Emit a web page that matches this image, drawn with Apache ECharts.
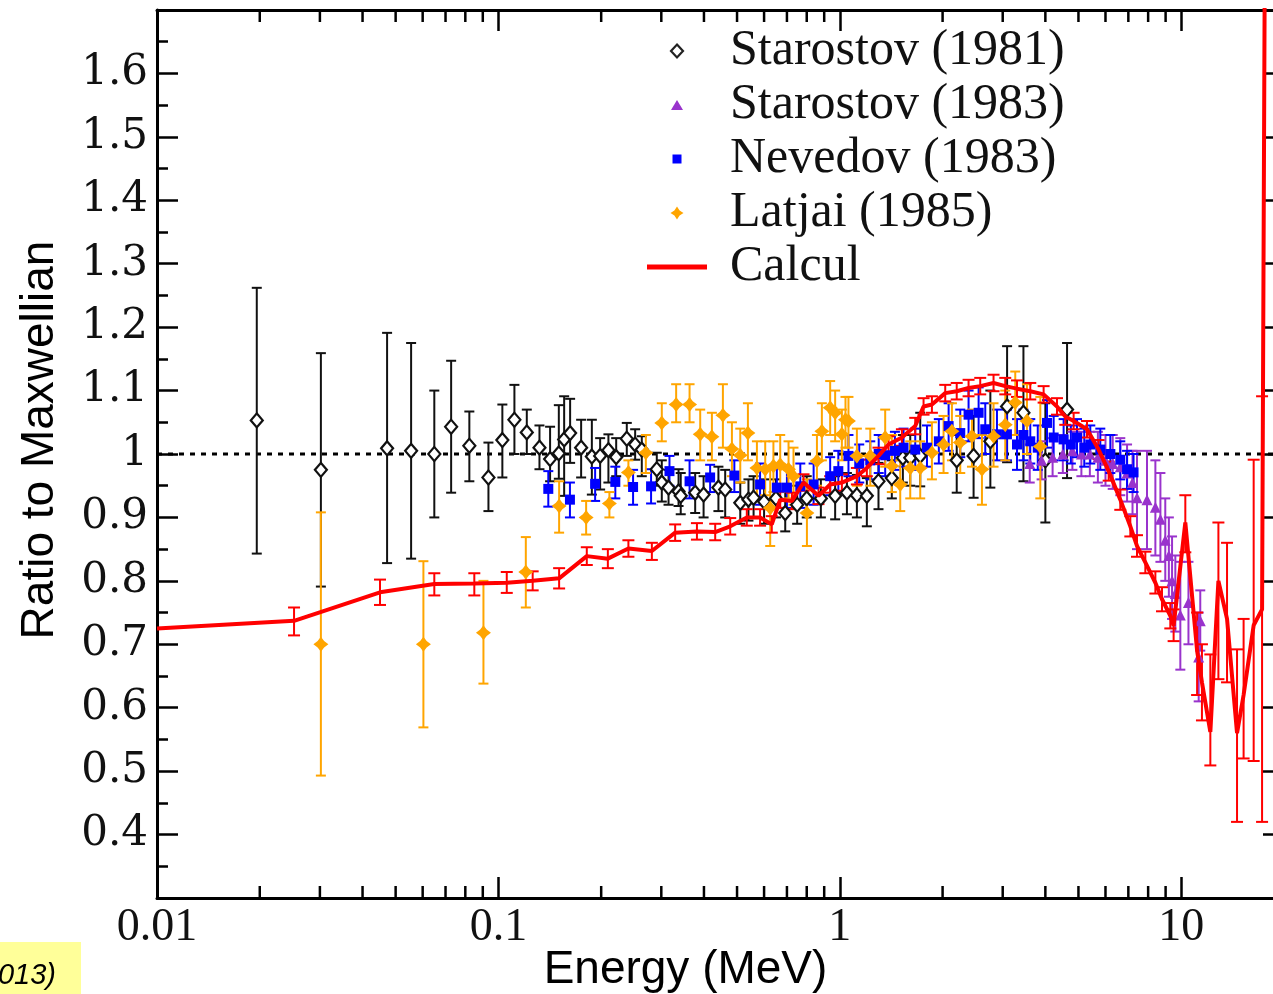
<!DOCTYPE html>
<html><head><meta charset="utf-8">
<script src="https://cdn.jsdelivr.net/npm/echarts@6/dist/echarts.min.js"></script>
<style>html,body{margin:0;padding:0;background:#fff;overflow:hidden}#c{width:1284px;height:994px}</style>
</head><body><div id="c"></div>
<script>
// ---- tick labels ----
const xTickValues = [0.01, 0.1, 1, 10];
const xTickLabels = ['0.01', '0.1', '1', '10'];
const xMinorTicks = [0.02,0.03,0.04,0.05,0.06,0.07,0.08,0.09,0.2,0.3,0.4,0.5,0.6,0.7,0.8,0.9,2,3,4,5,6,7,8,9];
const yHiddenLabels = [0.3, 1.7];

// ---- data: [energy MeV, ratio, low, high] ----
const starostov1981 = [
[0.0196,1.053,0.843,1.262],[0.0302,0.975,0.791,1.159],[0.0472,1.009,0.828,1.191],[0.0555,1.005,0.835,1.175],
[0.0649,1.000,0.900,1.100],[0.0727,1.043,0.939,1.147],[0.0822,1.013,0.957,1.067],[0.0935,0.963,0.910,1.018],
[0.1027,1.022,0.963,1.078],[0.1114,1.054,1.000,1.109],[0.1211,1.034,1.000,1.070],[0.1319,1.010,0.976,1.045],
[0.1417,0.992,0.957,1.043],[0.1503,1.001,0.961,1.077],[0.1558,1.023,0.934,1.091],[0.1622,1.033,0.986,1.087],
[0.1747,1.010,0.963,1.054],[0.1878,0.996,0.936,1.054],[0.1986,0.997,0.944,1.025],[0.2100,1.006,0.955,1.031],
[0.2213,0.995,0.965,1.025],[0.2377,1.024,0.997,1.049],[0.2515,1.015,0.991,1.039],[0.263,1.007,0.965,1.028],
[0.291,0.976,0.950,1.002],[0.301,0.955,0.925,0.990],[0.315,0.947,0.920,0.975],[0.337,0.941,0.918,0.976],
[0.342,0.934,0.905,0.970],[0.377,0.939,0.907,0.970],[0.399,0.936,0.900,0.965],[0.441,0.947,0.910,0.980],
[0.4616,0.944,0.900,0.975],[0.511,0.923,0.890,0.955],[0.540,0.928,0.895,0.960],[0.559,0.931,0.900,0.965],
[0.60,0.925,0.890,0.960],[0.65,0.930,0.900,0.960],[0.692,0.907,0.878,0.940],[0.75,0.920,0.890,0.950],
[0.80,0.930,0.900,0.965],[0.88,0.930,0.900,0.960],[0.969,0.934,0.897,0.965],[1.049,0.939,0.905,0.970],
[1.122,0.935,0.900,0.967],[1.2,0.934,0.886,0.962],[1.298,0.957,0.913,0.986],[1.42,0.962,0.930,0.990],
[1.53,0.994,0.955,1.030],[1.608,0.994,0.950,1.030],[1.72,0.997,0.949,1.065],[2.2,0.990,0.939,1.030],
[2.465,0.997,0.931,1.060],[2.76,1.020,0.947,1.100],[3.09,1.075,0.987,1.170],[3.45,1.065,0.957,1.170],
[4.0,0.990,0.892,1.080],[4.63,1.070,0.962,1.175]
];
const starostov1983 = [
[3.6,0.985,0.955,1.015],[3.9,0.990,0.960,1.020],[4.2,0.995,0.965,1.025],[4.5,1.000,0.970,1.030],
[4.8,1.005,0.975,1.035],[5.1,1.000,0.965,1.035],[5.4,1.000,0.965,1.035],[5.7,0.995,0.955,1.035],
[6.0,0.990,0.950,1.030],[6.3,0.985,0.945,1.030],[6.63,0.980,0.935,1.025],[6.94,0.970,0.925,1.015],
[7.2,0.955,0.905,1.005],[7.42,0.931,0.850,1.005],[7.94,0.928,0.850,1.005],[8.40,0.916,0.840,0.990],
[8.69,0.897,0.830,0.970],[8.98,0.864,0.800,0.930],[9.2,0.840,0.775,0.900],[9.4,0.800,0.740,0.870],
[9.61,0.780,0.720,0.840],[9.94,0.746,0.660,0.830],[10.5,0.766,0.700,0.830],[11.25,0.680,0.610,0.750],
[11.37,0.737,0.690,0.785]
];
const nevedov1983 = [
[0.140,0.945,0.917,0.973],[0.162,0.928,0.900,0.955],[0.192,0.953,0.926,0.978],[0.220,0.956,0.930,0.980],
[0.248,0.948,0.920,0.975],[0.280,0.949,0.922,0.976],[0.317,0.973,0.950,0.997],[0.363,0.957,0.930,0.990],
[0.417,0.963,0.940,0.983],[0.491,0.966,0.940,0.990],[0.584,0.952,0.920,0.985],[0.654,0.947,0.915,0.980],
[0.70,0.947,0.915,0.980],[0.766,0.949,0.915,0.985],[0.838,0.952,0.920,0.985],[0.937,0.965,0.935,0.995],
[0.99,0.973,0.940,1.005],[1.06,0.997,0.965,1.030],[1.14,0.985,0.955,1.015],[1.228,0.990,0.960,1.020],
[1.30,1.000,0.970,1.030],[1.358,0.998,0.965,1.030],[1.45,1.005,0.975,1.035],[1.537,1.010,0.980,1.040],
[1.663,1.007,0.975,1.040],[1.80,1.010,0.980,1.045],[1.95,1.020,0.985,1.055],[2.083,1.044,1.005,1.080],
[2.253,1.033,0.995,1.070],[2.383,1.062,1.020,1.100],[2.55,1.065,1.025,1.105],[2.667,1.039,1.000,1.080],
[2.886,1.031,0.990,1.070],[3.087,1.031,0.990,1.070],[3.303,1.015,0.975,1.055],[3.45,1.030,0.990,1.070],
[3.613,1.020,0.985,1.055],[3.8,1.010,0.975,1.045],[4.045,1.049,1.010,1.085],[4.23,1.026,0.990,1.060],
[4.524,1.023,0.990,1.055],[4.75,1.015,0.985,1.045],[4.952,1.026,0.995,1.055],[5.2,1.010,0.980,1.040],
[5.416,1.015,0.985,1.045],[5.794,1.007,0.975,1.040],[6.2,1.000,0.970,1.030],[6.63,0.991,0.960,1.020],
[6.94,0.976,0.945,1.005],[7.25,0.971,0.940,1.000]
];
const latjai1985 = [
[0.0302,0.700,0.493,0.908],[0.0603,0.700,0.569,0.831],[0.0904,0.718,0.638,0.800],[0.1203,0.814,0.758,0.869],
[0.1506,0.918,0.876,0.957],[0.1807,0.900,0.873,0.926],[0.2114,0.922,0.900,0.940],[0.2403,0.971,0.950,0.990],
[0.2703,1.002,0.970,1.030],[0.301,1.049,1.020,1.080],[0.3316,1.078,1.050,1.110],[0.363,1.078,1.050,1.110],
[0.39,1.031,0.990,1.070],[0.422,1.027,0.990,1.065],[0.4545,1.061,1.010,1.110],[0.483,1.008,0.965,1.050],
[0.511,0.998,0.955,1.040],[0.538,1.033,0.990,1.080],[0.5717,0.978,0.930,1.020],[0.6046,0.976,0.935,1.020],
[0.6253,0.915,0.855,0.976],[0.639,0.981,0.940,1.020],[0.669,0.983,0.940,1.030],[0.7076,0.976,0.930,1.020],
[0.7317,0.965,0.920,1.010],[0.801,0.907,0.855,0.960],[0.857,0.989,0.950,1.030],[0.886,1.036,0.990,1.080],
[0.937,1.073,1.030,1.115],[0.969,1.065,1.020,1.100],[1.014,1.031,0.990,1.070],[1.039,1.054,1.010,1.090],
[1.06,1.052,1.010,1.090],[1.122,0.997,0.950,1.040],[1.228,0.997,0.950,1.040],[1.358,1.026,0.980,1.070],
[1.42,0.981,0.940,1.030],[1.503,0.952,0.910,0.990],[1.608,0.978,0.930,1.020],[1.72,0.978,0.930,1.020],
[1.861,1.002,0.960,1.050],[2.013,1.015,0.970,1.060],[2.13,1.036,0.990,1.080],[2.253,1.018,0.970,1.060],
[2.438,1.028,0.980,1.070],[2.608,0.976,0.920,1.030],[2.82,1.028,0.980,1.080],[3.052,1.046,0.990,1.100],
[3.265,1.081,1.030,1.130],[3.533,1.052,1.000,1.110],[3.866,1.012,0.930,1.090]
];
const calcul = [
[0.01,0.725,0.725,0.725],[0.0252,0.737,0.714,0.758],[0.045,0.782,0.762,0.802],[0.0649,0.795,0.777,0.812],
[0.085,0.796,0.777,0.812],[0.1058,0.797,0.781,0.814],[0.126,0.800,0.785,0.815],[0.1506,0.804,0.788,0.820],
[0.1815,0.839,0.825,0.853],[0.2092,0.835,0.820,0.850],[0.2403,0.851,0.838,0.864],[0.2815,0.847,0.833,0.860],
[0.3294,0.876,0.863,0.889],[0.3815,0.878,0.865,0.891],[0.4315,0.877,0.864,0.890],[0.4775,0.886,0.873,0.899],
[0.534,0.900,0.887,0.913],[0.584,0.900,0.887,0.913],[0.632,0.889,0.876,0.902],[0.669,0.928,0.915,0.941],
[0.724,0.926,0.913,0.939],[0.783,0.955,0.942,0.968],[0.866,0.934,0.921,0.947],[0.937,0.952,0.939,0.965],
[1.014,0.955,0.942,0.968],[1.122,0.965,0.952,0.978],[1.2,0.978,0.965,0.991],[1.298,0.997,0.984,1.010],
[1.389,1.015,1.002,1.028],[1.52,1.026,1.013,1.039],[1.663,1.044,1.031,1.057],[1.759,1.075,1.062,1.088],
[1.861,1.078,1.065,1.091],[2.036,1.096,1.083,1.109],[2.2,1.099,1.086,1.112],[2.383,1.104,1.091,1.117],
[2.578,1.107,1.094,1.120],[2.82,1.112,1.099,1.125],[3.052,1.107,1.094,1.120],[3.303,1.103,1.090,1.116],
[3.613,1.099,1.086,1.112],[3.953,1.094,1.081,1.107],[4.326,1.075,1.062,1.088],[4.575,1.059,1.046,1.072],
[4.84,1.052,1.039,1.065],[5.297,1.039,1.026,1.052],[5.728,1.007,0.992,1.022],[6.13,0.973,0.958,0.988],
[6.63,0.928,0.912,0.944],[7.094,0.886,0.870,0.902],[7.42,0.855,0.838,0.872],[7.85,0.829,0.812,0.846],
[8.40,0.797,0.780,0.815],[8.785,0.771,0.752,0.790],[9.29,0.745,0.725,0.765],[9.50,0.729,0.705,0.755],
[10.28,0.892,0.845,0.935],[11.13,0.690,0.620,0.750],[11.5,0.640,0.580,0.700],[12.17,0.562,0.509,0.684],
[12.85,0.800,0.645,0.892],[13.62,0.740,0.640,0.860],[14.57,0.560,0.420,0.692],[15.23,0.620,0.520,0.740],
[16.3,0.730,0.516,0.991],[17.25,0.755,0.420,1.091],[17.8,2.5,2.5,2.5]
];
const referenceLine = [[0.01, 1], [20, 1]];

// ---- rendering ----
const X_MIN = 0.01, X_MAX = 20, Y_MIN = 0.3, Y_MAX = 1.7;
const chart = echarts.init(document.getElementById('c'), null, {renderer: 'canvas'});

function errBars(color, cap, lw) {
  return function (params, api) {
    const x = api.value(0), lo = api.value(2), hi = api.value(3);
    if (lo === hi) return null;
    const a = api.coord([x, hi]), b = api.coord([x, lo]);
    const st = {stroke: color, lineWidth: lw};
    return {type: 'group', children: [
      {type: 'line', shape: {x1: a[0], y1: a[1], x2: b[0], y2: b[1]}, style: st},
      {type: 'line', shape: {x1: a[0] - cap, y1: a[1], x2: a[0] + cap, y2: a[1]}, style: st},
      {type: 'line', shape: {x1: b[0] - cap, y1: b[1], x2: b[0] + cap, y2: b[1]}, style: st}
    ]};
  };
}
function errSeries(name, data, color, cap, lw) {
  return {type: 'custom', name: name, data: data, renderItem: errBars(color, cap, lw),
    encode: {x: 0, y: 1}, clip: true, silent: true, z: 2};
}
const xy = d => d.map(r => [r[0], r[1]]);

const axisLine = {show: true, onZero: false, lineStyle: {color: '#000', width: 3}};
const blobPath = 'path://M6,0 L8.6,3.4 L12,6 L8.6,8.6 L6,12 L3.4,8.6 L0,6 L3.4,3.4 Z';
// legend icons padded to a 14x14 box so that they keep their own size
const legDiamond = 'path://M0,0M14,14M7,0.5L13,7L7,13.5L1,7Z';
const legTriangle = 'path://M0,0M14,14M7,2L13,12L1,12Z';
const legSquare = 'path://M0,0M14,14M2.5,2.5H11.5V11.5H2.5Z';
const legBlob = 'path://M0,0M14,14M7,0.5L9.6,4.4L13.5,7L9.6,9.6L7,13.5L4.4,9.6L0.5,7L4.4,4.4Z';

const option = {
  animation: false,
  backgroundColor: '#fff',
  grid: {left: 157, top: 10, right: 0, bottom: 96, containLabel: false, outerBoundsMode: 'none'},
  xAxis: [{
    type: 'log', logBase: 10, min: X_MIN, max: X_MAX, position: 'bottom',
    axisLine: axisLine,
    axisTick: {show: true, inside: true, length: 21, lineStyle: {color: '#000', width: 2.5}},
    splitLine: {show: false}, minorTick: {show: false},
    axisLabel: {
      margin: 7, color: '#111', fontFamily: 'Liberation Serif', fontSize: 46,
      formatter: function (v) {
        for (let i = 0; i < xTickValues.length; i++) {
          if (Math.abs(v - xTickValues[i]) / xTickValues[i] < 1e-6) return xTickLabels[i];
        }
        return '';
      }
    },
    name: 'Energy (MeV)', nameLocation: 'middle', nameGap: 49, nameMoveOverlap: false,
    nameTextStyle: {fontFamily: 'Liberation Sans', fontSize: 46, color: '#000', padding: [0, 70, 0, 0]}
  }, {
    type: 'log', logBase: 10, min: X_MIN, max: X_MAX, position: 'top',
    axisLine: axisLine,
    axisTick: {show: true, inside: true, length: 21, lineStyle: {color: '#000', width: 2.5}},
    axisLabel: {show: false}, splitLine: {show: false}
  }],
  yAxis: [{
    type: 'value', min: Y_MIN, max: Y_MAX, interval: 0.1, position: 'left',
    axisLine: axisLine,
    axisTick: {show: true, inside: true, length: 21, lineStyle: {color: '#000', width: 2.5}},
    minorTick: {show: true, splitNumber: 2, length: 11, lineStyle: {color: '#000', width: 2.5}},
    splitLine: {show: false},
    axisLabel: {
      margin: 9, color: '#111', fontFamily: 'DejaVu Serif', fontSize: 42,
      formatter: function (v) {
        for (const h of yHiddenLabels) if (Math.abs(v - h) < 1e-6) return '';
        return String(Math.round(v * 10) / 10);
      }
    },
    name: 'Ratio to Maxwellian', nameLocation: 'middle', nameGap: 94, nameMoveOverlap: false,
    nameTextStyle: {fontFamily: 'Liberation Sans', fontSize: 46, color: '#000', padding: [0, 0, 0, 28]}
  }, {
    type: 'value', min: Y_MIN, max: Y_MAX, interval: 0.1, position: 'right',
    axisLine: axisLine,
    axisTick: {show: true, inside: true, length: 21, lineStyle: {color: '#000', width: 2.5}},
    minorTick: {show: true, splitNumber: 2, length: 11, lineStyle: {color: '#000', width: 2.5}},
    splitLine: {show: false}, axisLabel: {show: false}
  }],
  legend: {
    orient: 'vertical', left: 647, top: 26, padding: 0, itemWidth: 60, itemHeight: 14, itemGap: 4,
    selectedMode: false, symbolKeepAspect: true,
    textStyle: {fontFamily: 'Liberation Serif', fontSize: 50, color: '#111', padding: [0, 0, 0, 18]},
    data: [
      {name: 'Starostov (1981)', icon: legDiamond, itemStyle: {color: '#fff', borderColor: '#222', borderWidth: 2.2}},
      {name: 'Starostov (1983)', icon: legTriangle, itemStyle: {color: '#9933cc'}},
      {name: 'Nevedov (1983)', icon: legSquare, itemStyle: {color: '#0000ff'}},
      {name: 'Latjai (1985)', icon: legBlob, itemStyle: {color: '#ffa500'}},
      {name: 'Calcul', icon: 'path://M0,0H60V5H0Z', itemStyle: {color: '#ff0000'}}
    ]
  },
  graphic: [
    {type: 'rect', left: 0, top: 942, shape: {width: 81, height: 52}, style: {fill: '#ffff99'}, z: 10},
    {type: 'text', x: 56, y: 976, z: 11,
     style: {text: '(2013)', fill: '#000', font: 'italic 29px "Liberation Sans"', align: 'right', verticalAlign: 'middle'}}
  ],
  series: [
    {type: 'custom', name: 'minor x ticks', data: xMinorTicks.map(v => [v, 1]), encode: {x: 0, y: 1},
     silent: true, z: 5,
     renderItem: function (params, api) {
       const v = api.value(0);
       const b = api.coord([v, Y_MIN]), t = api.coord([v, Y_MAX]);
       const st = {stroke: '#000', lineWidth: 2.5};
       return {type: 'group', children: [
         {type: 'line', shape: {x1: b[0], y1: b[1], x2: b[0], y2: b[1] - 12}, style: st},
         {type: 'line', shape: {x1: t[0], y1: t[1], x2: t[0], y2: t[1] + 12}, style: st}
       ]};
     }},
    {type: 'line', name: 'unity', data: referenceLine, symbol: 'none', silent: true, z: 1,
     lineStyle: {color: '#000', width: 3, type: [5, 6]}},
    errSeries('err81', starostov1981, '#111', 5, 2),
    {type: 'scatter', name: 'Starostov (1981)', data: xy(starostov1981), symbol: 'diamond', symbolSize: [12, 14], z: 3,
     itemStyle: {color: '#fff', borderColor: '#111', borderWidth: 2.2, opacity: 1}},
    errSeries('err83', starostov1983, '#9933cc', 5, 2),
    {type: 'scatter', name: 'Starostov (1983)', data: xy(starostov1983), symbol: 'triangle', symbolSize: 11, z: 3,
     itemStyle: {color: '#9933cc', opacity: 1}},
    errSeries('errNev', nevedov1983, '#0000ff', 5, 2),
    {type: 'scatter', name: 'Nevedov (1983)', data: xy(nevedov1983), symbol: 'rect', symbolSize: 10, z: 3,
     itemStyle: {color: '#0000ff', opacity: 1}},
    errSeries('errLat', latjai1985, '#ffa500', 5, 2),
    {type: 'scatter', name: 'Latjai (1985)', data: xy(latjai1985), symbol: blobPath, symbolSize: 15, z: 3,
     itemStyle: {color: '#ffa500', opacity: 1}},
    errSeries('errCal', calcul, '#ff0000', 6, 2),
    {type: 'line', name: 'Calcul', data: xy(calcul), symbol: 'none', z: 4, clip: true,
     lineStyle: {color: '#ff0000', width: 4}}
  ]
};
chart.setOption(option);
</script>
</body></html>
